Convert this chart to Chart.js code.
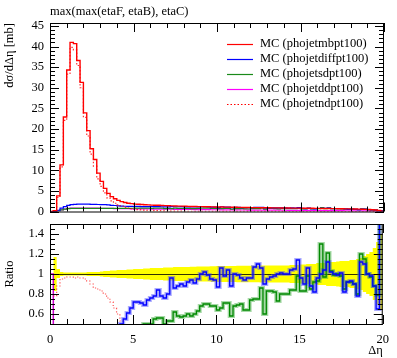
<!DOCTYPE html>
<html>
<head>
<meta charset="utf-8">
<script src="https://cdn.jsdelivr.net/npm/chart.js@4.4.0/dist/chart.umd.min.js"></script>
<style>
  body { margin: 0; background: #fff; width: 397px; height: 358px; overflow: hidden; position: relative; }
  #mainChart { position: absolute; left: 0; top: 0; }
  #ratioChart { position: absolute; left: 0; top: 204px; }
</style>
</head>
<body>
<canvas id="mainChart" width="397" height="225"></canvas>
<canvas id="ratioChart" width="397" height="154"></canvas>
<script>
// 100 bins of width 0.2 in delta eta, 0 .. 20
const binWidth = 0.2;
const nBins = 100;
const binEdges = Array.from({ length: nBins + 1 }, (_, i) => +(i * binWidth).toFixed(1));

const xTickLabels = [0, 5, 10, 15, 20];
const yTickLabels = [0, 5, 10, 15, 20, 25, 30, 35, 40, 45];
const ratioTickLabels = [0.6, 0.8, 1, 1.2, 1.4];

const seriesNames = ['MC (phojetmbpt100)', 'MC (phojetdiffpt100)', 'MC (phojetsdpt100)', 'MC (phojetddpt100)', 'MC (phojetndpt100)'];

// dsigma/d(delta eta) [mb]
const mbValues = [
  0, 0.2, 3.8, 11.3, 22.9, 34.3, 41.0, 40.7, 36.6, 31.3,
  23.9, 19.6, 15.2, 12.6, 9.3, 7.3, 5.6, 4.4, 3.6, 3.1,
  2.7, 2.4, 2.2, 2.0, 1.9, 1.8, 1.75, 1.7, 1.65, 1.6,
  1.55, 1.5, 1.5, 1.45, 1.42, 1.4, 1.36, 1.33, 1.31, 1.3,
  1.27, 1.25, 1.22, 1.2, 1.19, 1.17, 1.15, 1.14, 1.12, 1.1,
  1.1, 1.08, 1.06, 1.05, 1.04, 1.02, 1.0, 0.99, 0.98, 0.96,
  0.95, 0.94, 0.93, 0.92, 0.91, 0.9, 0.89, 0.88, 0.87, 0.86,
  0.85, 0.84, 0.83, 0.82, 0.81, 0.8, 0.79, 0.78, 0.77, 0.76,
  0.75, 0.74, 0.72, 0.71, 0.7, 0.69, 0.67, 0.66, 0.64, 0.63,
  0.61, 0.59, 0.57, 0.54, 0.51, 0.47, 0.42, 0.35, 0.25, 0.1
];
const diffValues = [
  0, 0.05, 0.3, 0.8, 1.2, 1.5, 1.65, 1.75, 1.8, 1.8,
  1.8, 1.78, 1.75, 1.72, 1.7, 1.68, 1.65, 1.6, 1.5, 1.45,
  1.38, 1.3, 1.27, 1.25, 1.24, 1.25, 1.24, 1.2, 1.17, 1.18,
  1.18, 1.17, 1.2, 1.15, 1.12, 1.13, 1.2, 1.15, 1.15, 1.16,
  1.14, 1.13, 1.12, 1.11, 1.12, 1.15, 1.15, 1.12, 1.07, 1.04,
  0.96, 1.15, 1.04, 1.08, 0.92, 1.02, 1.0, 0.96, 0.93, 0.92,
  0.92, 1.0, 1.02, 0.98, 0.82, 0.86, 0.86, 0.86, 0.86, 0.86,
  0.86, 0.84, 0.86, 0.85, 0.92, 0.78, 0.71, 0.83, 0.68, 0.62,
  0.73, 0.75, 0.77, 0.81, 0.72, 0.7, 0.68, 0.68, 0.65, 0.52,
  0.58, 0.55, 0.44, 0.6, 0.56, 0.47, 0.41, 0.31, 0.16, 0.16
];
const sdValues = [
  0, 0.02, 0.15, 0.4, 0.6, 0.7, 0.75, 0.76, 0.77, 0.77,
  0.77, 0.77, 0.76, 0.76, 0.76, 0.75, 0.75, 0.75, 0.75, 0.75,
  0.76, 0.76, 0.77, 0.78, 0.79, 0.8, 0.8, 0.81, 0.82, 0.8,
  0.78, 0.82, 0.84, 0.81, 0.71, 0.74, 0.72, 0.82, 0.76, 0.75,
  0.74, 0.75, 0.71, 0.72, 0.75, 0.8, 0.8, 0.8, 0.76, 0.75,
  0.7, 0.71, 0.75, 0.74, 0.6, 0.69, 0.69, 0.69, 0.63, 0.61,
  0.7, 0.7, 0.7, 0.79, 0.55, 0.75, 0.74, 0.72, 0.64, 0.69,
  0.68, 0.67, 0.7, 0.69, 0.79, 0.66, 0.66, 0.76, 0.65, 0.7,
  0.7, 0.96, 0.7, 0.86, 0.72, 0.68, 0.67, 0.65, 0.54, 0.58,
  0.56, 0.53, 0.46, 0.65, 0.59, 0.47, 0.41, 0.31, 0.2, 0.16
];
const ddValues = [
  0, 0.02, 0.15, 0.4, 0.6, 0.75, 0.82, 0.85, 0.85, 0.85,
  0.84, 0.83, 0.82, 0.81, 0.8, 0.79, 0.78, 0.76, 0.74, 0.72,
  0.7, 0.69, 0.68, 0.67, 0.66, 0.65, 0.64, 0.63, 0.62, 0.61,
  0.6, 0.59, 0.58, 0.57, 0.56, 0.55, 0.54, 0.53, 0.52, 0.51,
  0.5, 0.49, 0.48, 0.47, 0.46, 0.45, 0.44, 0.44, 0.43, 0.42,
  0.42, 0.41, 0.4, 0.39, 0.38, 0.38, 0.37, 0.36, 0.36, 0.35,
  0.35, 0.34, 0.34, 0.33, 0.33, 0.32, 0.32, 0.31, 0.31, 0.3,
  0.3, 0.29, 0.29, 0.28, 0.28, 0.27, 0.26, 0.26, 0.25, 0.25,
  0.24, 0.23, 0.23, 0.22, 0.21, 0.2, 0.2, 0.19, 0.18, 0.18,
  0.17, 0.16, 0.15, 0.15, 0.14, 0.13, 0.12, 0.11, 0.1, 0.05
];
const ndValues = [
  0, 0.15, 3.4, 10.8, 22.1, 33.3, 39.8, 39.2, 35.4, 30.0,
  22.8, 18.3, 13.9, 11.0, 7.9, 6.1, 4.5, 3.3, 2.6, 2.0,
  1.6, 1.27, 1.0, 0.85, 0.7, 0.55, 0.45, 0.4, 0.35, 0.3,
  0.26, 0.22, 0.19, 0.17, 0.15, 0.13, 0.11, 0.1, 0.09, 0.08,
  0.07, 0.06, 0.06, 0.05, 0.05, 0.04, 0.04, 0.04, 0.03, 0.03,
  0.03, 0.03, 0.02, 0.02, 0.02, 0.02, 0.02, 0.02, 0.01, 0.01,
  0.01, 0.01, 0.01, 0.01, 0.01, 0.01, 0.01, 0.01, 0.01, 0.01,
  0, 0, 0, 0, 0, 0, 0, 0, 0, 0,
  0, 0, 0, 0, 0, 0, 0, 0, 0, 0,
  0, 0, 0, 0, 0, 0, 0, 0, 0, 0
];

// ratio to MC (phojetmbpt100)
const diffRatio = [
  null, 0.1, 0.08, 0.07, 0.05, 0.04, 0.04, 0.04, 0.05, 0.06,
  0.08, 0.09, 0.11, 0.14, 0.17, 0.2, 0.24, 0.29, 0.33, 0.38,
  0.44, 0.5, 0.55, 0.61, 0.66, 0.72, 0.72, 0.71, 0.69, 0.74,
  0.76, 0.78, 0.84, 0.78, 0.76, 0.8, 0.96, 0.86, 0.88, 0.9,
  0.88, 0.92, 0.94, 0.91, 0.95, 1.0, 1.02, 0.99, 0.95, 0.94,
  0.87, 1.06, 0.98, 1.04, 0.88, 1.0, 0.99, 0.96, 0.94, 0.96,
  0.96, 1.07, 1.1, 1.06, 0.9, 0.95, 0.97, 0.98, 1.0, 1.01,
  1.0, 1.0, 1.04, 1.05, 1.14, 0.96, 0.9, 1.06, 0.88, 0.82,
  0.96, 1.0, 1.04, 1.12, 1.02, 1.0, 0.99, 1.01, 0.82, 0.92,
  0.93, 0.9, 0.78, 1.12, 1.1, 1.0, 0.98, 0.88, 0.65, 1.6
];
const sdRatio = [
  null, 0.1, 0.04, 0.035, 0.026, 0.02, 0.018, 0.019, 0.021, 0.025,
  0.032, 0.039, 0.05, 0.06, 0.08, 0.1, 0.13, 0.17, 0.21, 0.24,
  0.28, 0.32, 0.35, 0.39, 0.42, 0.44, 0.46, 0.48, 0.5, 0.5,
  0.5, 0.55, 0.56, 0.56, 0.5, 0.53, 0.53, 0.62, 0.58, 0.57,
  0.58, 0.6, 0.58, 0.6, 0.63, 0.68, 0.7, 0.7, 0.68, 0.68,
  0.64, 0.66, 0.71, 0.71, 0.58, 0.68, 0.69, 0.7, 0.64, 0.64,
  0.74, 0.75, 0.75, 0.86, 0.6, 0.83, 0.83, 0.82, 0.73, 0.8,
  0.8, 0.8, 0.84, 0.84, 0.98, 0.83, 0.83, 0.98, 0.85, 0.92,
  0.93, 1.3, 0.97, 1.21, 1.03, 0.99, 1.0, 0.98, 0.85, 0.92,
  0.92, 0.9, 0.8, 1.2, 1.15, 1.0, 0.97, 0.88, 0.79, 1.6
];
const ddRatio = [
  1.0, 0.1, 0.04, 0.035, 0.026, 0.022, 0.02, 0.021, 0.023, 0.027,
  0.035, 0.042, 0.054, 0.064, 0.086, 0.11, 0.14, 0.17, 0.21, 0.23,
  0.26, 0.29, 0.31, 0.33, 0.35, 0.36, 0.37, 0.37, 0.38, 0.38,
  0.39, 0.39, 0.39, 0.39, 0.39, 0.39, 0.4, 0.4, 0.4, 0.39,
  0.39, 0.39, 0.39, 0.39, 0.39, 0.38, 0.38, 0.39, 0.38, 0.38,
  0.38, 0.38, 0.38, 0.37, 0.37, 0.37, 0.37, 0.36, 0.37, 0.36,
  0.37, 0.36, 0.37, 0.36, 0.36, 0.36, 0.36, 0.35, 0.36, 0.35,
  0.35, 0.35, 0.35, 0.34, 0.35, 0.34, 0.33, 0.33, 0.32, 0.33,
  0.32, 0.31, 0.32, 0.31, 0.3, 0.29, 0.3, 0.29, 0.28, 0.29,
  0.28, 0.27, 0.26, 0.28, 0.27, 0.28, 0.29, 0.31, 0.4, 0.45
];
const ndRatio = [
  null, 0.78, 0.88, 0.95, 0.96, 0.97, 0.97, 0.96, 0.97, 0.96,
  0.95, 0.93, 0.9, 0.86, 0.85, 0.83, 0.8, 0.76, 0.72, 0.66,
  0.6, 0.53, 0.45, 0.42, 0.37, 0.31, 0.26, 0.24, 0.21, 0.19,
  0.17, 0.15, 0.13, 0.12, 0.11, 0.09, 0.08, 0.08, 0.07, 0.06,
  0.06, 0.05, 0.05, 0.04, 0.04, 0.03, 0.03, 0.03, 0.03, 0.03,
  0.03, 0.03, 0.02, 0.02, 0.02, 0.02, 0.02, 0.02, 0.01, 0.01,
  0.01, 0.01, 0.01, 0.01, 0.01, 0.01, 0.01, 0.01, 0.01, 0.01,
  0, 0, 0, 0, 0, 0, 0, 0, 0, 0,
  0, 0, 0, 0, 0, 0, 0, 0, 0, 0,
  0, 0, 0, 0, 0, 0, 0, 0, 0, 0
];
// reference (mbpt100) uncertainty band
const bandHigh = [
  null, 1.17, 1.05, 1.02, 1.015, 1.015, 1.015, 1.015, 1.015, 1.015,
  1.015, 1.02, 1.02, 1.02, 1.02, 1.025, 1.03, 1.03, 1.035, 1.035,
  1.04, 1.04, 1.04, 1.045, 1.045, 1.05, 1.05, 1.05, 1.055, 1.055,
  1.06, 1.06, 1.06, 1.06, 1.065, 1.065, 1.065, 1.07, 1.07, 1.07,
  1.07, 1.07, 1.072, 1.072, 1.075, 1.075, 1.075, 1.075, 1.078, 1.078,
  1.08, 1.08, 1.08, 1.08, 1.08, 1.08, 1.082, 1.082, 1.082, 1.082,
  1.083, 1.083, 1.083, 1.084, 1.084, 1.084, 1.085, 1.085, 1.085, 1.085,
  1.085, 1.085, 1.09, 1.09, 1.09, 1.095, 1.095, 1.1, 1.1, 1.1,
  1.11, 1.11, 1.11, 1.12, 1.12, 1.12, 1.125, 1.13, 1.13, 1.13,
  1.14, 1.14, 1.15, 1.16, 1.18, 1.2, 1.22, 1.26, 1.32, 1.4
];
const bandLow = [
  null, 0.83, 0.96, 0.98, 0.985, 0.985, 0.985, 0.985, 0.985, 0.985,
  0.985, 0.98, 0.98, 0.98, 0.98, 0.975, 0.97, 0.97, 0.965, 0.965,
  0.96, 0.96, 0.96, 0.955, 0.955, 0.95, 0.95, 0.95, 0.945, 0.945,
  0.94, 0.94, 0.94, 0.94, 0.935, 0.935, 0.935, 0.93, 0.93, 0.93,
  0.93, 0.93, 0.928, 0.928, 0.925, 0.925, 0.925, 0.925, 0.922, 0.922,
  0.92, 0.92, 0.92, 0.92, 0.92, 0.92, 0.918, 0.918, 0.918, 0.918,
  0.917, 0.917, 0.917, 0.916, 0.916, 0.916, 0.915, 0.915, 0.915, 0.915,
  0.915, 0.915, 0.91, 0.91, 0.91, 0.905, 0.905, 0.9, 0.9, 0.9,
  0.89, 0.89, 0.89, 0.88, 0.88, 0.88, 0.875, 0.87, 0.87, 0.87,
  0.86, 0.86, 0.85, 0.84, 0.82, 0.8, 0.78, 0.74, 0.7, 0.65
];

const FONT = "'Liberation Serif', 'DejaVu Serif', serif";
const FONT_SIZE = 12.5;

// histogram -> stepped points (left edges + closing edge)
function histPoints(values) {
  const pts = values.map((v, i) => ({ x: binEdges[i], y: v }));
  pts.push({ x: binEdges[nBins], y: values[nBins - 1] });
  return pts;
}

function hist(label, values, color, extra) {
  return Object.assign({
    label: label,
    data: histPoints(values),
    borderColor: color,
    borderWidth: 1.2,
    pointRadius: 0,
    stepped: 'before',
    fill: false,
    tension: 0
  }, extra || {});
}

// inward ticks and frame, Rivet style
function frameTicksPlugin(yMinor, yMajor) {
  return {
    id: 'frameTicks',
    afterDatasetsDraw(chart) {
      const { ctx, chartArea: a, scales: { x, y } } = chart;
      ctx.save();
      ctx.strokeStyle = '#000';
      ctx.lineWidth = 1;
      ctx.beginPath();
      for (let i = 0; i <= 20; i++) {
        const px = Math.round(x.getPixelForValue(i)) + 0.5;
        const len = i % 5 === 0 ? 9 : 5;
        ctx.moveTo(px, a.top); ctx.lineTo(px, a.top + len);
        ctx.moveTo(px, a.bottom); ctx.lineTo(px, a.bottom - len);
      }
      const n = Math.round((y.max - y.min) / yMinor) + 2;
      const start = Math.ceil(y.min / yMinor - 1e-6);
      for (let k = start; k < start + n; k++) {
        const v = k * yMinor;
        if (v > y.max + 1e-9) break;
        const major = Math.abs(v / yMajor - Math.round(v / yMajor)) < 1e-6;
        const len = major ? 9 : 5;
        const py = Math.round(y.getPixelForValue(v)) + 0.5;
        ctx.moveTo(a.left, py); ctx.lineTo(a.left + len, py);
        ctx.moveTo(a.right, py); ctx.lineTo(a.right - len, py);
      }
      ctx.stroke();
      ctx.strokeRect(a.left + 0.5, a.top + 0.5, a.right - a.left - 1, a.bottom - a.top);
      ctx.restore();
    }
  };
}

const legendPlugin = {
  id: 'histLegend',
  afterDraw(chart) {
    const { ctx } = chart;
    const styles = [
      { color: '#ff0000', dash: [] },
      { color: '#0000ff', dash: [] },
      { color: '#1a8a1a', dash: [] },
      { color: '#ff00ff', dash: [] },
      { color: '#ff0000', dash: [1.5, 2] }
    ];
    ctx.save();
    ctx.font = FONT_SIZE + "px " + FONT;
    ctx.textBaseline = 'middle';
    ctx.fillStyle = '#000';
    seriesNames.forEach((name, i) => {
      const yy = 44 + i * 15;
      ctx.strokeStyle = styles[i].color;
      ctx.setLineDash(styles[i].dash);
      ctx.lineWidth = 1.2;
      ctx.beginPath();
      ctx.moveTo(227, yy + 0.5); ctx.lineTo(253, yy + 0.5);
      ctx.stroke();
      ctx.fillText(name, 260, yy);
    });
    ctx.setLineDash([]);
    ctx.textBaseline = 'alphabetic';
    ctx.fillText('max(max(etaF, etaB), etaC)', 50, 15);
    ctx.restore();
  }
};

const fixedTicks = (values) => (scale) => { scale.ticks = values.map(v => ({ value: v })); };
const plainLabel = (v) => String(+v.toFixed(2));

new Chart(document.getElementById('mainChart'), {
  type: 'line',
  data: {
    datasets: [
      hist(seriesNames[0], mbValues, '#ff0000', { borderWidth: 1.4 }),
      hist(seriesNames[4], ndValues, '#ff0000', { borderDash: [1.5, 2], borderColor: 'rgba(255,0,0,0.8)' }),
      hist(seriesNames[1], diffValues, '#0000ff'),
      hist(seriesNames[2], sdValues, '#1a8a1a'),
      hist(seriesNames[3], ddValues, '#ff00ff')
    ]
  },
  options: {
    responsive: false,
    animation: false,
    layout: { padding: { top: 23, right: 13, bottom: 1, left: 0 } },
    plugins: { legend: { display: false }, tooltip: { enabled: false } },
    scales: {
      x: { type: 'linear', min: 0, max: 20, display: false },
      y: {
        type: 'linear', min: 0, max: 45.7,
        afterBuildTicks: fixedTicks(yTickLabels),
        afterFit: (s) => { s.width = 50; },
        grid: { display: false, drawTicks: false },
        border: { display: false },
        ticks: { padding: 6, color: '#000', callback: plainLabel, font: { family: FONT, size: FONT_SIZE } },
        title: {
          display: true, text: 'dσ/dΔη [mb]', align: 'end', color: '#000',
          font: { family: FONT, size: FONT_SIZE }, padding: { top: 2, bottom: 0 }
        }
      }
    }
  },
  plugins: [frameTicksPlugin(1, 5), legendPlugin]
});

const refLinePlugin = {
  id: 'refLine',
  afterDatasetDraw(chart, args) {
    if (args.index !== chart.data.datasets.length - 2) return;
    const { ctx, chartArea: a, scales: { y } } = chart;
    const py = Math.round(y.getPixelForValue(1)) + 0.5;
    ctx.save();
    ctx.strokeStyle = '#333300';
    ctx.lineWidth = 1;
    ctx.beginPath();
    ctx.moveTo(a.left, py); ctx.lineTo(a.right, py);
    ctx.stroke();
    ctx.restore();
  }
};

new Chart(document.getElementById('ratioChart'), {
  type: 'line',
  data: {
    datasets: [
      hist('diff', diffRatio, '#0000ff', { borderWidth: 1.3 }),
      hist('sd', sdRatio, '#008800', { borderWidth: 1.3 }),
      hist('nd', ndRatio, '#ff0000', { borderDash: [1.2, 2], borderColor: 'rgba(255,40,40,0.8)' }),
      hist('dd', ddRatio, '#cc00cc', { borderWidth: 1.5 }),
      hist('diff err', diffRatio, 'rgba(70,70,255,0.45)', { borderWidth: 4 }),
      hist('sd err', sdRatio, 'rgba(60,170,60,0.45)', { borderWidth: 4 }),
      hist('band hi', bandHigh, 'rgba(0,0,0,0)', { borderWidth: 0, fill: '+1', backgroundColor: '#ffff00' }),
      hist('band lo', bandLow, 'rgba(0,0,0,0)', { borderWidth: 0 })
    ]
  },
  options: {
    responsive: false,
    animation: false,
    layout: { padding: { top: 20, right: 13, bottom: 0, left: 0 } },
    plugins: { legend: { display: false }, tooltip: { enabled: false } },
    scales: {
      x: {
        type: 'linear', min: 0, max: 20,
        afterBuildTicks: fixedTicks(xTickLabels),
        afterFit: (s) => { s.height = 34; },
        grid: { display: false, drawTicks: false },
        border: { display: false },
        ticks: { padding: 8, color: '#000', maxRotation: 0, callback: plainLabel, font: { family: FONT, size: FONT_SIZE } },
        title: {
          display: true, text: 'Δη', align: 'end', color: '#000',
          font: { family: FONT, size: FONT_SIZE }, padding: { top: 0, bottom: 0 }
        }
      },
      y: {
        type: 'linear', min: 0.5, max: 1.5,
        afterBuildTicks: fixedTicks(ratioTickLabels),
        afterFit: (s) => { s.width = 50; },
        grid: { display: false, drawTicks: false },
        border: { display: false },
        ticks: { padding: 6, color: '#000', callback: plainLabel, font: { family: FONT, size: FONT_SIZE } },
        title: {
          display: true, text: 'Ratio', color: '#000',
          font: { family: FONT, size: FONT_SIZE }, padding: { top: 2, bottom: 0 }
        }
      }
    }
  },
  plugins: [frameTicksPlugin(0.05, 0.2), refLinePlugin]
});
</script>
</body>
</html>
